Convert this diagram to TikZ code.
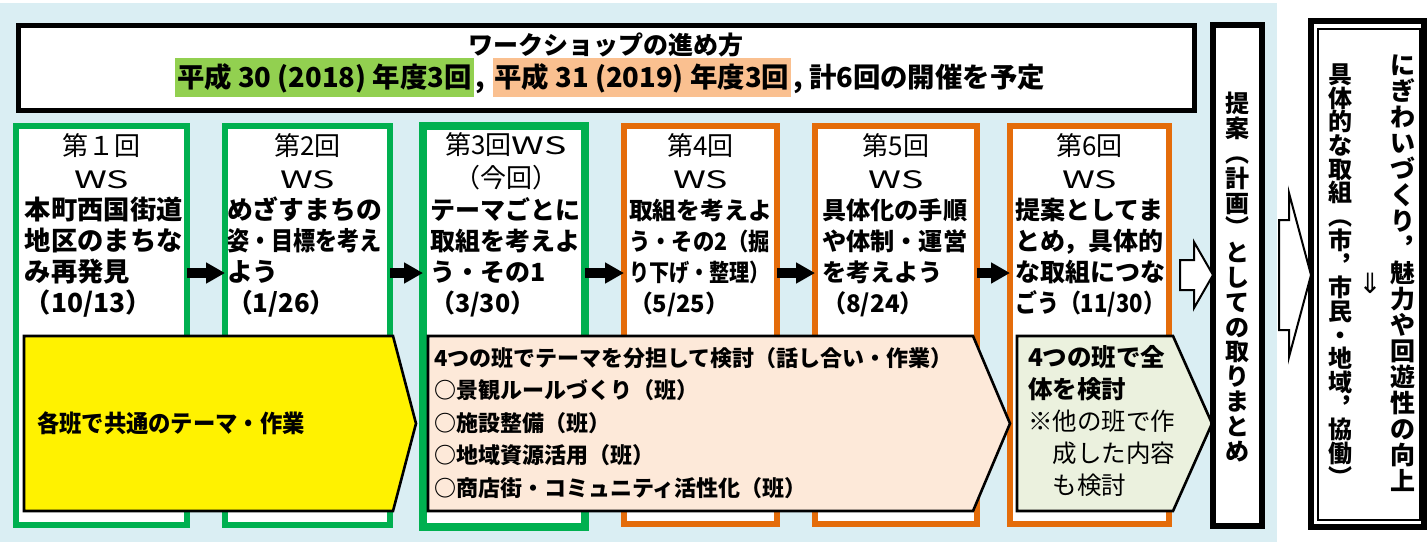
\documentclass[tikz,border=0pt]{standalone}
\usepackage{fontspec}
\usepackage{graphicx}
\setmainfont{Noto Sans CJK JP}
\newfontfamily\symfont{DejaVu Sans}
\usetikzlibrary{arrows.meta,calc}
\definecolor{bgblue}{HTML}{DAEEF3}
\definecolor{wsgreen}{HTML}{00B050}
\definecolor{wsorange}{HTML}{E46C0A}
\definecolor{hlgreen}{HTML}{92D050}
\definecolor{hlorange}{HTML}{FAC090}
\definecolor{peach}{HTML}{FDE9D9}
\definecolor{greengray}{HTML}{EBF1DE}
\newcommand{\fw}[2]{\resizebox{#1}{\height}{#2}}
\newcommand{\fsz}[2]{\lineskiplimit=-30pt\fontsize{#1}{#2}\selectfont}
\newcommand{\ws}{{\fontsize{12}{12}\selectfont\fw{27.5pt}{WS}}}
\begin{document}
\begin{tikzpicture}[x=0.5pt,y=-0.5pt,
  every node/.style={inner sep=0pt, outer sep=0pt},
  hdrbox/.style={draw=black, line width=2.5pt, fill=white},
  blkbox/.style={draw=black, line width=3pt, fill=white},
  colg/.style={draw=wsgreen, line width=3pt, fill=white},
  colo/.style={draw=wsorange, line width=3pt, fill=white},
  hl/.style={font=\bfseries\fsz{13.7}{16}, text height=14.95pt, text depth=4.55pt, inner xsep=1pt, anchor=west},
  hd/.style={font=\fsz{13}{16.5}, align=center},
  bd/.style={align=left, anchor=west},
  blk/.style={line width=5pt, -{Triangle[length=9.5pt,width=10pt]}},
  openar/.style={draw=black, line width=1pt, fill=white, line join=miter},
  pent/.style={draw=black, line width=1.3pt, line join=miter},
  vt/.style={align=center, font=\bfseries\fsz{12}{12.4}},
]
\useasboundingbox (0,0) rectangle (1427,542);
\fill[bgblue] (0,3) rectangle (1277,542);

% header
\node[hdrbox, minimum width=588pt, minimum height=42.5pt] (hdr) at (606.5,68) {};
\node[font=\bfseries\fsz{12.5}{14}] (t1) at (606,45) {ワークショップの進め方};
\node[hl, fill=hlgreen] (h1) at (175,77.5) {平成 30 (2018) 年度3回};
\node[hl] (h2) at (h1.east) {\makebox[7.5pt][l]{,}};
\node[hl, fill=hlorange] (h3) at (h2.east) {平成 31 (2019) 年度3回};
\node[hl] (h4) at (h3.east) {, 計6回の開催を予定};

% columns
\node[colg, minimum width=85.5pt, minimum height=199.5pt] (c1) at (101.5,325.5) {};
\node[colg, minimum width=82.5pt, minimum height=199.5pt] (c2) at (307.5,325.5) {};
\node[colg, line width=4pt, minimum width=81pt, minimum height=200.5pt] (c3) at (504,326.5) {};
\node[colo, minimum width=76.5pt, minimum height=199pt] (c4) at (700.5,325) {};
\node[colo, minimum width=81pt, minimum height=199pt] (c5) at (896,325) {};
\node[colo, minimum width=79.5pt, minimum height=199pt] (c6) at (1089.5,325) {};

\node[hd] (c1h) at (101.5,161.5) {第１回\\\ws};
\node[hd] (c2h) at (307.5,161.5) {第2回\\\ws};
\node[hd] (c3h) at (506,161.5) {第3回\ws\\（今回）};
\node[hd] (c4h) at (700.5,161.5) {第4回\\\ws};
\node[hd] (c5h) at (896,161.5) {第5回\\\ws};
\node[hd] (c6h) at (1089.5,161.5) {第6回\\\ws};

\node[bd, font=\bfseries\fsz{13.15}{15.5}] (c1b) at (25,257.5) {本町西国街道\\地区のまちな\\み再発見\\（10/13）};
\node[bd, font=\bfseries\fsz{12.9}{15.5}] (c2b) at (227,257.5) {めざすまちの\\\fw{77.5pt}{姿・目標を考え}\\よう\\（1/26）};
\node[bd, font=\bfseries\fsz{12.5}{15.5}] (c3b) at (430,257.5) {テーマごとに\\取組を考えよ\\う・その1\\（3/30）};
\node[bd, font=\bfseries\fsz{11.9}{15.5}] (c4b) at (629,257.5) {取組を考えよ\\\fw{70.5pt}{う・その2（掘}\\\fw{70.5pt}{り下げ・整理）}\\（5/25）};
\node[bd, font=\bfseries\fsz{12.1}{15.5}] (c5b) at (822,257.5) {具体化の手順\\や体制・運営\\を考えよう\\（8/24）};
\node[bd, font=\bfseries\fsz{12.5}{15.5}] (c6b) at (1015,257.5) {提案としてま\\とめ，具体的\\な取組につな\\\fw{75pt}{ごう（11/30）}};

% black arrows between columns
\coordinate (ar) at (0,273);
\draw[blk] (c1.east |- ar) -- (c2.west |- ar);
\draw[blk] (c2.east |- ar) -- (c3.west |- ar);
\draw[blk] (c3.east |- ar) -- (c4.west |- ar);
\draw[blk] (c4.east |- ar) -- (c5.west |- ar);
\draw[blk] (c5.east |- ar) -- (c6.west |- ar);

% bottom pentagons
\draw[pent, fill=yellow] (24,336) -- (393,336) -- (416,423.5) -- (393,511) -- (24,511) -- cycle;
\draw[pent, fill=peach] (428,336) -- (973,336) -- (1010,423.5) -- (973,511) -- (428,511) -- cycle;
\draw[pent, fill=greengray] (1017,336) -- (1173,336) -- (1212,423.5) -- (1173,511) -- (1017,511) -- cycle;

\node[bd, font=\bfseries\fsz{12}{14}] (yt) at (37,423.5) {\fw{134pt}{各班で共通のテーマ・作業}};
\node[bd, font=\bfseries\fsz{11}{16.25}] (pt) at (434,423) {4つの班でテーマを分担して検討（話し合い・作業）\\○景観ルールづくり（班）\\○施設整備（班）\\○地域資源活用（班）\\○商店街・コミュニティ活性化（班）};
\node[bd, font=\fsz{12.25}{16}] (gt) at (1028,421) {{\bfseries 4つの班で全}\\{\bfseries 体を検討}\\※他の班で作\\　成した内容\\　も検討};

% summary box
\node[blkbox, minimum width=24.5pt, minimum height=250.5pt] (tb) at (1237.5,275.5) {};
\node[vt] (tbt) at (1237,277) {提\\案\\︵\\計\\画\\︶\\と\\し\\て\\の\\取\\り\\ま\\と\\め};

% right box
\node[blkbox, minimum width=56.5pt, minimum height=253pt] (rb) at (1367.5,274) {};
\node[draw=black, line width=0.75pt, minimum width=51pt, minimum height=245.5pt] (rbi) at (1369,274.5) {};
\node[align=center, font=\bfseries\fsz{12.5}{13}] (rbr) at (1403,273) {に\\ぎ\\わ\\い\\づ\\く\\り\\︐\\魅\\力\\や\\回\\遊\\性\\の\\向\\上};
\node[align=center, font=\bfseries\fsz{12}{11.85}] (rbl) at (1340,275) {具\\体\\的\\な\\取\\組\\︵\\市\\︐\\市\\民\\・\\地\\域\\︐\\協\\働\\︶};
\node[font=\symfont\fsz{14}{14}] (dn) at (1370,283) {⇓};

% open arrows
\coordinate (oa) at (0,275);
\draw[openar] (tb.west |- oa) -- ++(-19,-33) -- ++(0,18) -- ++(-14,0) -- ++(0,30) -- ++(14,0) -- ++(0,18) -- cycle;
\draw[openar] (rb.west |- oa) -- ++(-22,-82) -- ++(0,27) -- ++(-10,0) -- ++(0,110) -- ++(10,0) -- ++(0,27) -- cycle;
\end{tikzpicture}
\end{document}
